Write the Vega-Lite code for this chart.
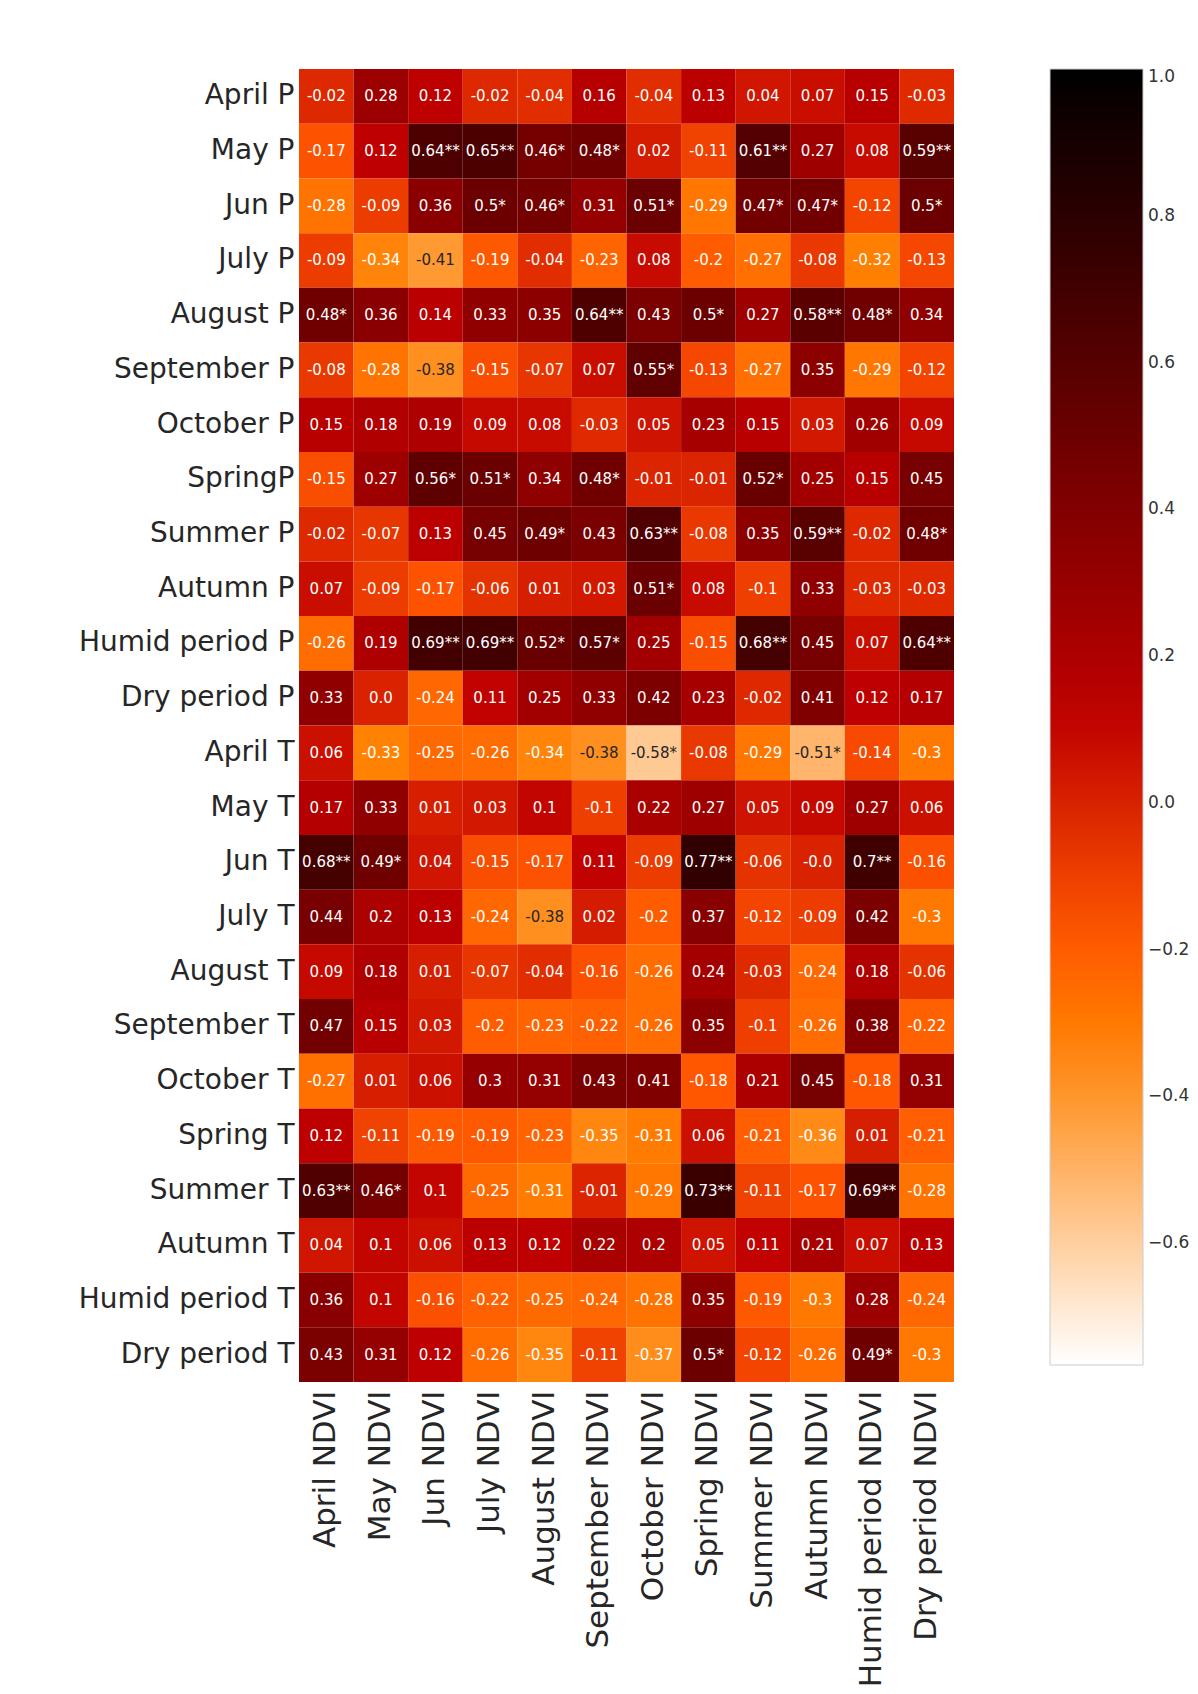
{
  "$schema": "https://vega.github.io/schema/vega-lite/v6.json",
  "width": 655,
  "height": 1313,
  "autosize": {"type": "none"},
  "padding": {"left": 299, "top": 69, "right": 244, "bottom": 312},
  "background": "white",
  "config": {
    "view": {"stroke": null},
    "font": "DejaVu Sans",
    "axis": {"labelFont": "DejaVu Sans", "labelColor": "#262626", "ticks": false, "domain": false, "grid": false, "title": null}
  },
  "data": {"values": [
{"y":"April P","x":"April NDVI","v":-0.02,"t":"-0.02"},
{"y":"April P","x":"May NDVI","v":0.28,"t":"0.28"},
{"y":"April P","x":"Jun NDVI","v":0.12,"t":"0.12"},
{"y":"April P","x":"July NDVI","v":-0.02,"t":"-0.02"},
{"y":"April P","x":"August NDVI","v":-0.04,"t":"-0.04"},
{"y":"April P","x":"September NDVI","v":0.16,"t":"0.16"},
{"y":"April P","x":"October NDVI","v":-0.04,"t":"-0.04"},
{"y":"April P","x":"Spring NDVI","v":0.13,"t":"0.13"},
{"y":"April P","x":"Summer NDVI","v":0.04,"t":"0.04"},
{"y":"April P","x":"Autumn NDVI","v":0.07,"t":"0.07"},
{"y":"April P","x":"Humid  period NDVI","v":0.15,"t":"0.15"},
{"y":"April P","x":"Dry period NDVI","v":-0.03,"t":"-0.03"},
{"y":"May P","x":"April NDVI","v":-0.17,"t":"-0.17"},
{"y":"May P","x":"May NDVI","v":0.12,"t":"0.12"},
{"y":"May P","x":"Jun NDVI","v":0.64,"t":"0.64**"},
{"y":"May P","x":"July NDVI","v":0.65,"t":"0.65**"},
{"y":"May P","x":"August NDVI","v":0.46,"t":"0.46*"},
{"y":"May P","x":"September NDVI","v":0.48,"t":"0.48*"},
{"y":"May P","x":"October NDVI","v":0.02,"t":"0.02"},
{"y":"May P","x":"Spring NDVI","v":-0.11,"t":"-0.11"},
{"y":"May P","x":"Summer NDVI","v":0.61,"t":"0.61**"},
{"y":"May P","x":"Autumn NDVI","v":0.27,"t":"0.27"},
{"y":"May P","x":"Humid  period NDVI","v":0.08,"t":"0.08"},
{"y":"May P","x":"Dry period NDVI","v":0.59,"t":"0.59**"},
{"y":"Jun P","x":"April NDVI","v":-0.28,"t":"-0.28"},
{"y":"Jun P","x":"May NDVI","v":-0.09,"t":"-0.09"},
{"y":"Jun P","x":"Jun NDVI","v":0.36,"t":"0.36"},
{"y":"Jun P","x":"July NDVI","v":0.5,"t":"0.5*"},
{"y":"Jun P","x":"August NDVI","v":0.46,"t":"0.46*"},
{"y":"Jun P","x":"September NDVI","v":0.31,"t":"0.31"},
{"y":"Jun P","x":"October NDVI","v":0.51,"t":"0.51*"},
{"y":"Jun P","x":"Spring NDVI","v":-0.29,"t":"-0.29"},
{"y":"Jun P","x":"Summer NDVI","v":0.47,"t":"0.47*"},
{"y":"Jun P","x":"Autumn NDVI","v":0.47,"t":"0.47*"},
{"y":"Jun P","x":"Humid  period NDVI","v":-0.12,"t":"-0.12"},
{"y":"Jun P","x":"Dry period NDVI","v":0.5,"t":"0.5*"},
{"y":"July P","x":"April NDVI","v":-0.09,"t":"-0.09"},
{"y":"July P","x":"May NDVI","v":-0.34,"t":"-0.34"},
{"y":"July P","x":"Jun NDVI","v":-0.41,"t":"-0.41"},
{"y":"July P","x":"July NDVI","v":-0.19,"t":"-0.19"},
{"y":"July P","x":"August NDVI","v":-0.04,"t":"-0.04"},
{"y":"July P","x":"September NDVI","v":-0.23,"t":"-0.23"},
{"y":"July P","x":"October NDVI","v":0.08,"t":"0.08"},
{"y":"July P","x":"Spring NDVI","v":-0.2,"t":"-0.2"},
{"y":"July P","x":"Summer NDVI","v":-0.27,"t":"-0.27"},
{"y":"July P","x":"Autumn NDVI","v":-0.08,"t":"-0.08"},
{"y":"July P","x":"Humid  period NDVI","v":-0.32,"t":"-0.32"},
{"y":"July P","x":"Dry period NDVI","v":-0.13,"t":"-0.13"},
{"y":"August P","x":"April NDVI","v":0.48,"t":"0.48*"},
{"y":"August P","x":"May NDVI","v":0.36,"t":"0.36"},
{"y":"August P","x":"Jun NDVI","v":0.14,"t":"0.14"},
{"y":"August P","x":"July NDVI","v":0.33,"t":"0.33"},
{"y":"August P","x":"August NDVI","v":0.35,"t":"0.35"},
{"y":"August P","x":"September NDVI","v":0.64,"t":"0.64**"},
{"y":"August P","x":"October NDVI","v":0.43,"t":"0.43"},
{"y":"August P","x":"Spring NDVI","v":0.5,"t":"0.5*"},
{"y":"August P","x":"Summer NDVI","v":0.27,"t":"0.27"},
{"y":"August P","x":"Autumn NDVI","v":0.58,"t":"0.58**"},
{"y":"August P","x":"Humid  period NDVI","v":0.48,"t":"0.48*"},
{"y":"August P","x":"Dry period NDVI","v":0.34,"t":"0.34"},
{"y":"September P","x":"April NDVI","v":-0.08,"t":"-0.08"},
{"y":"September P","x":"May NDVI","v":-0.28,"t":"-0.28"},
{"y":"September P","x":"Jun NDVI","v":-0.38,"t":"-0.38"},
{"y":"September P","x":"July NDVI","v":-0.15,"t":"-0.15"},
{"y":"September P","x":"August NDVI","v":-0.07,"t":"-0.07"},
{"y":"September P","x":"September NDVI","v":0.07,"t":"0.07"},
{"y":"September P","x":"October NDVI","v":0.55,"t":"0.55*"},
{"y":"September P","x":"Spring NDVI","v":-0.13,"t":"-0.13"},
{"y":"September P","x":"Summer NDVI","v":-0.27,"t":"-0.27"},
{"y":"September P","x":"Autumn NDVI","v":0.35,"t":"0.35"},
{"y":"September P","x":"Humid  period NDVI","v":-0.29,"t":"-0.29"},
{"y":"September P","x":"Dry period NDVI","v":-0.12,"t":"-0.12"},
{"y":"October P","x":"April NDVI","v":0.15,"t":"0.15"},
{"y":"October P","x":"May NDVI","v":0.18,"t":"0.18"},
{"y":"October P","x":"Jun NDVI","v":0.19,"t":"0.19"},
{"y":"October P","x":"July NDVI","v":0.09,"t":"0.09"},
{"y":"October P","x":"August NDVI","v":0.08,"t":"0.08"},
{"y":"October P","x":"September NDVI","v":-0.03,"t":"-0.03"},
{"y":"October P","x":"October NDVI","v":0.05,"t":"0.05"},
{"y":"October P","x":"Spring NDVI","v":0.23,"t":"0.23"},
{"y":"October P","x":"Summer NDVI","v":0.15,"t":"0.15"},
{"y":"October P","x":"Autumn NDVI","v":0.03,"t":"0.03"},
{"y":"October P","x":"Humid  period NDVI","v":0.26,"t":"0.26"},
{"y":"October P","x":"Dry period NDVI","v":0.09,"t":"0.09"},
{"y":"SpringP","x":"April NDVI","v":-0.15,"t":"-0.15"},
{"y":"SpringP","x":"May NDVI","v":0.27,"t":"0.27"},
{"y":"SpringP","x":"Jun NDVI","v":0.56,"t":"0.56*"},
{"y":"SpringP","x":"July NDVI","v":0.51,"t":"0.51*"},
{"y":"SpringP","x":"August NDVI","v":0.34,"t":"0.34"},
{"y":"SpringP","x":"September NDVI","v":0.48,"t":"0.48*"},
{"y":"SpringP","x":"October NDVI","v":-0.01,"t":"-0.01"},
{"y":"SpringP","x":"Spring NDVI","v":-0.01,"t":"-0.01"},
{"y":"SpringP","x":"Summer NDVI","v":0.52,"t":"0.52*"},
{"y":"SpringP","x":"Autumn NDVI","v":0.25,"t":"0.25"},
{"y":"SpringP","x":"Humid  period NDVI","v":0.15,"t":"0.15"},
{"y":"SpringP","x":"Dry period NDVI","v":0.45,"t":"0.45"},
{"y":"Summer P","x":"April NDVI","v":-0.02,"t":"-0.02"},
{"y":"Summer P","x":"May NDVI","v":-0.07,"t":"-0.07"},
{"y":"Summer P","x":"Jun NDVI","v":0.13,"t":"0.13"},
{"y":"Summer P","x":"July NDVI","v":0.45,"t":"0.45"},
{"y":"Summer P","x":"August NDVI","v":0.49,"t":"0.49*"},
{"y":"Summer P","x":"September NDVI","v":0.43,"t":"0.43"},
{"y":"Summer P","x":"October NDVI","v":0.63,"t":"0.63**"},
{"y":"Summer P","x":"Spring NDVI","v":-0.08,"t":"-0.08"},
{"y":"Summer P","x":"Summer NDVI","v":0.35,"t":"0.35"},
{"y":"Summer P","x":"Autumn NDVI","v":0.59,"t":"0.59**"},
{"y":"Summer P","x":"Humid  period NDVI","v":-0.02,"t":"-0.02"},
{"y":"Summer P","x":"Dry period NDVI","v":0.48,"t":"0.48*"},
{"y":"Autumn P","x":"April NDVI","v":0.07,"t":"0.07"},
{"y":"Autumn P","x":"May NDVI","v":-0.09,"t":"-0.09"},
{"y":"Autumn P","x":"Jun NDVI","v":-0.17,"t":"-0.17"},
{"y":"Autumn P","x":"July NDVI","v":-0.06,"t":"-0.06"},
{"y":"Autumn P","x":"August NDVI","v":0.01,"t":"0.01"},
{"y":"Autumn P","x":"September NDVI","v":0.03,"t":"0.03"},
{"y":"Autumn P","x":"October NDVI","v":0.51,"t":"0.51*"},
{"y":"Autumn P","x":"Spring NDVI","v":0.08,"t":"0.08"},
{"y":"Autumn P","x":"Summer NDVI","v":-0.1,"t":"-0.1"},
{"y":"Autumn P","x":"Autumn NDVI","v":0.33,"t":"0.33"},
{"y":"Autumn P","x":"Humid  period NDVI","v":-0.03,"t":"-0.03"},
{"y":"Autumn P","x":"Dry period NDVI","v":-0.03,"t":"-0.03"},
{"y":"Humid  period P","x":"April NDVI","v":-0.26,"t":"-0.26"},
{"y":"Humid  period P","x":"May NDVI","v":0.19,"t":"0.19"},
{"y":"Humid  period P","x":"Jun NDVI","v":0.69,"t":"0.69**"},
{"y":"Humid  period P","x":"July NDVI","v":0.69,"t":"0.69**"},
{"y":"Humid  period P","x":"August NDVI","v":0.52,"t":"0.52*"},
{"y":"Humid  period P","x":"September NDVI","v":0.57,"t":"0.57*"},
{"y":"Humid  period P","x":"October NDVI","v":0.25,"t":"0.25"},
{"y":"Humid  period P","x":"Spring NDVI","v":-0.15,"t":"-0.15"},
{"y":"Humid  period P","x":"Summer NDVI","v":0.68,"t":"0.68**"},
{"y":"Humid  period P","x":"Autumn NDVI","v":0.45,"t":"0.45"},
{"y":"Humid  period P","x":"Humid  period NDVI","v":0.07,"t":"0.07"},
{"y":"Humid  period P","x":"Dry period NDVI","v":0.64,"t":"0.64**"},
{"y":"Dry period P","x":"April NDVI","v":0.33,"t":"0.33"},
{"y":"Dry period P","x":"May NDVI","v":0.0,"t":"0.0"},
{"y":"Dry period P","x":"Jun NDVI","v":-0.24,"t":"-0.24"},
{"y":"Dry period P","x":"July NDVI","v":0.11,"t":"0.11"},
{"y":"Dry period P","x":"August NDVI","v":0.25,"t":"0.25"},
{"y":"Dry period P","x":"September NDVI","v":0.33,"t":"0.33"},
{"y":"Dry period P","x":"October NDVI","v":0.42,"t":"0.42"},
{"y":"Dry period P","x":"Spring NDVI","v":0.23,"t":"0.23"},
{"y":"Dry period P","x":"Summer NDVI","v":-0.02,"t":"-0.02"},
{"y":"Dry period P","x":"Autumn NDVI","v":0.41,"t":"0.41"},
{"y":"Dry period P","x":"Humid  period NDVI","v":0.12,"t":"0.12"},
{"y":"Dry period P","x":"Dry period NDVI","v":0.17,"t":"0.17"},
{"y":"April T","x":"April NDVI","v":0.06,"t":"0.06"},
{"y":"April T","x":"May NDVI","v":-0.33,"t":"-0.33"},
{"y":"April T","x":"Jun NDVI","v":-0.25,"t":"-0.25"},
{"y":"April T","x":"July NDVI","v":-0.26,"t":"-0.26"},
{"y":"April T","x":"August NDVI","v":-0.34,"t":"-0.34"},
{"y":"April T","x":"September NDVI","v":-0.38,"t":"-0.38"},
{"y":"April T","x":"October NDVI","v":-0.58,"t":"-0.58*"},
{"y":"April T","x":"Spring NDVI","v":-0.08,"t":"-0.08"},
{"y":"April T","x":"Summer NDVI","v":-0.29,"t":"-0.29"},
{"y":"April T","x":"Autumn NDVI","v":-0.51,"t":"-0.51*"},
{"y":"April T","x":"Humid  period NDVI","v":-0.14,"t":"-0.14"},
{"y":"April T","x":"Dry period NDVI","v":-0.3,"t":"-0.3"},
{"y":"May T","x":"April NDVI","v":0.17,"t":"0.17"},
{"y":"May T","x":"May NDVI","v":0.33,"t":"0.33"},
{"y":"May T","x":"Jun NDVI","v":0.01,"t":"0.01"},
{"y":"May T","x":"July NDVI","v":0.03,"t":"0.03"},
{"y":"May T","x":"August NDVI","v":0.1,"t":"0.1"},
{"y":"May T","x":"September NDVI","v":-0.1,"t":"-0.1"},
{"y":"May T","x":"October NDVI","v":0.22,"t":"0.22"},
{"y":"May T","x":"Spring NDVI","v":0.27,"t":"0.27"},
{"y":"May T","x":"Summer NDVI","v":0.05,"t":"0.05"},
{"y":"May T","x":"Autumn NDVI","v":0.09,"t":"0.09"},
{"y":"May T","x":"Humid  period NDVI","v":0.27,"t":"0.27"},
{"y":"May T","x":"Dry period NDVI","v":0.06,"t":"0.06"},
{"y":"Jun T","x":"April NDVI","v":0.68,"t":"0.68**"},
{"y":"Jun T","x":"May NDVI","v":0.49,"t":"0.49*"},
{"y":"Jun T","x":"Jun NDVI","v":0.04,"t":"0.04"},
{"y":"Jun T","x":"July NDVI","v":-0.15,"t":"-0.15"},
{"y":"Jun T","x":"August NDVI","v":-0.17,"t":"-0.17"},
{"y":"Jun T","x":"September NDVI","v":0.11,"t":"0.11"},
{"y":"Jun T","x":"October NDVI","v":-0.09,"t":"-0.09"},
{"y":"Jun T","x":"Spring NDVI","v":0.77,"t":"0.77**"},
{"y":"Jun T","x":"Summer NDVI","v":-0.06,"t":"-0.06"},
{"y":"Jun T","x":"Autumn NDVI","v":-0.0,"t":"-0.0"},
{"y":"Jun T","x":"Humid  period NDVI","v":0.7,"t":"0.7**"},
{"y":"Jun T","x":"Dry period NDVI","v":-0.16,"t":"-0.16"},
{"y":"July T","x":"April NDVI","v":0.44,"t":"0.44"},
{"y":"July T","x":"May NDVI","v":0.2,"t":"0.2"},
{"y":"July T","x":"Jun NDVI","v":0.13,"t":"0.13"},
{"y":"July T","x":"July NDVI","v":-0.24,"t":"-0.24"},
{"y":"July T","x":"August NDVI","v":-0.38,"t":"-0.38"},
{"y":"July T","x":"September NDVI","v":0.02,"t":"0.02"},
{"y":"July T","x":"October NDVI","v":-0.2,"t":"-0.2"},
{"y":"July T","x":"Spring NDVI","v":0.37,"t":"0.37"},
{"y":"July T","x":"Summer NDVI","v":-0.12,"t":"-0.12"},
{"y":"July T","x":"Autumn NDVI","v":-0.09,"t":"-0.09"},
{"y":"July T","x":"Humid  period NDVI","v":0.42,"t":"0.42"},
{"y":"July T","x":"Dry period NDVI","v":-0.3,"t":"-0.3"},
{"y":"August T","x":"April NDVI","v":0.09,"t":"0.09"},
{"y":"August T","x":"May NDVI","v":0.18,"t":"0.18"},
{"y":"August T","x":"Jun NDVI","v":0.01,"t":"0.01"},
{"y":"August T","x":"July NDVI","v":-0.07,"t":"-0.07"},
{"y":"August T","x":"August NDVI","v":-0.04,"t":"-0.04"},
{"y":"August T","x":"September NDVI","v":-0.16,"t":"-0.16"},
{"y":"August T","x":"October NDVI","v":-0.26,"t":"-0.26"},
{"y":"August T","x":"Spring NDVI","v":0.24,"t":"0.24"},
{"y":"August T","x":"Summer NDVI","v":-0.03,"t":"-0.03"},
{"y":"August T","x":"Autumn NDVI","v":-0.24,"t":"-0.24"},
{"y":"August T","x":"Humid  period NDVI","v":0.18,"t":"0.18"},
{"y":"August T","x":"Dry period NDVI","v":-0.06,"t":"-0.06"},
{"y":"September T","x":"April NDVI","v":0.47,"t":"0.47"},
{"y":"September T","x":"May NDVI","v":0.15,"t":"0.15"},
{"y":"September T","x":"Jun NDVI","v":0.03,"t":"0.03"},
{"y":"September T","x":"July NDVI","v":-0.2,"t":"-0.2"},
{"y":"September T","x":"August NDVI","v":-0.23,"t":"-0.23"},
{"y":"September T","x":"September NDVI","v":-0.22,"t":"-0.22"},
{"y":"September T","x":"October NDVI","v":-0.26,"t":"-0.26"},
{"y":"September T","x":"Spring NDVI","v":0.35,"t":"0.35"},
{"y":"September T","x":"Summer NDVI","v":-0.1,"t":"-0.1"},
{"y":"September T","x":"Autumn NDVI","v":-0.26,"t":"-0.26"},
{"y":"September T","x":"Humid  period NDVI","v":0.38,"t":"0.38"},
{"y":"September T","x":"Dry period NDVI","v":-0.22,"t":"-0.22"},
{"y":"October T","x":"April NDVI","v":-0.27,"t":"-0.27"},
{"y":"October T","x":"May NDVI","v":0.01,"t":"0.01"},
{"y":"October T","x":"Jun NDVI","v":0.06,"t":"0.06"},
{"y":"October T","x":"July NDVI","v":0.3,"t":"0.3"},
{"y":"October T","x":"August NDVI","v":0.31,"t":"0.31"},
{"y":"October T","x":"September NDVI","v":0.43,"t":"0.43"},
{"y":"October T","x":"October NDVI","v":0.41,"t":"0.41"},
{"y":"October T","x":"Spring NDVI","v":-0.18,"t":"-0.18"},
{"y":"October T","x":"Summer NDVI","v":0.21,"t":"0.21"},
{"y":"October T","x":"Autumn NDVI","v":0.45,"t":"0.45"},
{"y":"October T","x":"Humid  period NDVI","v":-0.18,"t":"-0.18"},
{"y":"October T","x":"Dry period NDVI","v":0.31,"t":"0.31"},
{"y":"Spring T","x":"April NDVI","v":0.12,"t":"0.12"},
{"y":"Spring T","x":"May NDVI","v":-0.11,"t":"-0.11"},
{"y":"Spring T","x":"Jun NDVI","v":-0.19,"t":"-0.19"},
{"y":"Spring T","x":"July NDVI","v":-0.19,"t":"-0.19"},
{"y":"Spring T","x":"August NDVI","v":-0.23,"t":"-0.23"},
{"y":"Spring T","x":"September NDVI","v":-0.35,"t":"-0.35"},
{"y":"Spring T","x":"October NDVI","v":-0.31,"t":"-0.31"},
{"y":"Spring T","x":"Spring NDVI","v":0.06,"t":"0.06"},
{"y":"Spring T","x":"Summer NDVI","v":-0.21,"t":"-0.21"},
{"y":"Spring T","x":"Autumn NDVI","v":-0.36,"t":"-0.36"},
{"y":"Spring T","x":"Humid  period NDVI","v":0.01,"t":"0.01"},
{"y":"Spring T","x":"Dry period NDVI","v":-0.21,"t":"-0.21"},
{"y":"Summer T","x":"April NDVI","v":0.63,"t":"0.63**"},
{"y":"Summer T","x":"May NDVI","v":0.46,"t":"0.46*"},
{"y":"Summer T","x":"Jun NDVI","v":0.1,"t":"0.1"},
{"y":"Summer T","x":"July NDVI","v":-0.25,"t":"-0.25"},
{"y":"Summer T","x":"August NDVI","v":-0.31,"t":"-0.31"},
{"y":"Summer T","x":"September NDVI","v":-0.01,"t":"-0.01"},
{"y":"Summer T","x":"October NDVI","v":-0.29,"t":"-0.29"},
{"y":"Summer T","x":"Spring NDVI","v":0.73,"t":"0.73**"},
{"y":"Summer T","x":"Summer NDVI","v":-0.11,"t":"-0.11"},
{"y":"Summer T","x":"Autumn NDVI","v":-0.17,"t":"-0.17"},
{"y":"Summer T","x":"Humid  period NDVI","v":0.69,"t":"0.69**"},
{"y":"Summer T","x":"Dry period NDVI","v":-0.28,"t":"-0.28"},
{"y":"Autumn T","x":"April NDVI","v":0.04,"t":"0.04"},
{"y":"Autumn T","x":"May NDVI","v":0.1,"t":"0.1"},
{"y":"Autumn T","x":"Jun NDVI","v":0.06,"t":"0.06"},
{"y":"Autumn T","x":"July NDVI","v":0.13,"t":"0.13"},
{"y":"Autumn T","x":"August NDVI","v":0.12,"t":"0.12"},
{"y":"Autumn T","x":"September NDVI","v":0.22,"t":"0.22"},
{"y":"Autumn T","x":"October NDVI","v":0.2,"t":"0.2"},
{"y":"Autumn T","x":"Spring NDVI","v":0.05,"t":"0.05"},
{"y":"Autumn T","x":"Summer NDVI","v":0.11,"t":"0.11"},
{"y":"Autumn T","x":"Autumn NDVI","v":0.21,"t":"0.21"},
{"y":"Autumn T","x":"Humid  period NDVI","v":0.07,"t":"0.07"},
{"y":"Autumn T","x":"Dry period NDVI","v":0.13,"t":"0.13"},
{"y":"Humid  period T","x":"April NDVI","v":0.36,"t":"0.36"},
{"y":"Humid  period T","x":"May NDVI","v":0.1,"t":"0.1"},
{"y":"Humid  period T","x":"Jun NDVI","v":-0.16,"t":"-0.16"},
{"y":"Humid  period T","x":"July NDVI","v":-0.22,"t":"-0.22"},
{"y":"Humid  period T","x":"August NDVI","v":-0.25,"t":"-0.25"},
{"y":"Humid  period T","x":"September NDVI","v":-0.24,"t":"-0.24"},
{"y":"Humid  period T","x":"October NDVI","v":-0.28,"t":"-0.28"},
{"y":"Humid  period T","x":"Spring NDVI","v":0.35,"t":"0.35"},
{"y":"Humid  period T","x":"Summer NDVI","v":-0.19,"t":"-0.19"},
{"y":"Humid  period T","x":"Autumn NDVI","v":-0.3,"t":"-0.3"},
{"y":"Humid  period T","x":"Humid  period NDVI","v":0.28,"t":"0.28"},
{"y":"Humid  period T","x":"Dry period NDVI","v":-0.24,"t":"-0.24"},
{"y":"Dry period T","x":"April NDVI","v":0.43,"t":"0.43"},
{"y":"Dry period T","x":"May NDVI","v":0.31,"t":"0.31"},
{"y":"Dry period T","x":"Jun NDVI","v":0.12,"t":"0.12"},
{"y":"Dry period T","x":"July NDVI","v":-0.26,"t":"-0.26"},
{"y":"Dry period T","x":"August NDVI","v":-0.35,"t":"-0.35"},
{"y":"Dry period T","x":"September NDVI","v":-0.11,"t":"-0.11"},
{"y":"Dry period T","x":"October NDVI","v":-0.37,"t":"-0.37"},
{"y":"Dry period T","x":"Spring NDVI","v":0.5,"t":"0.5*"},
{"y":"Dry period T","x":"Summer NDVI","v":-0.12,"t":"-0.12"},
{"y":"Dry period T","x":"Autumn NDVI","v":-0.26,"t":"-0.26"},
{"y":"Dry period T","x":"Humid  period NDVI","v":0.49,"t":"0.49*"},
{"y":"Dry period T","x":"Dry period NDVI","v":-0.3,"t":"-0.3"}
  ]},
  "encoding": {
    "x": {"field": "x", "type": "nominal", "sort": null,
      "scale": {"paddingInner": 0, "paddingOuter": 0},
      "axis": {"orient": "bottom", "labelAngle": -90, "labelFontSize": 31, "labelPadding": 8, "labelLimit": 400}},
    "y": {"field": "y", "type": "nominal", "sort": null,
      "scale": {"paddingInner": 0, "paddingOuter": 0},
      "axis": {"orient": "left", "labelFontSize": 28, "labelPadding": 5, "labelLimit": 400}}
  },
  "layer": [
    {
      "mark": {"type": "rect"},
      "encoding": {
        "color": {"field": "v", "type": "quantitative",
          "scale": {"domain": [-0.766, -0.3245, -0.1773, 0.117, 1.0],
                    "range": ["#ffffff", "#ff8000", "#ff5500", "#bf0000", "#000000"],
                    "interpolate": "rgb"},
          "legend": {"orient": "none", "legendX": 751, "legendY": 0, "direction": "vertical",
            "gradientLength": 1296, "gradientThickness": 93, "title": null,
            "values": [1.0, 0.8, 0.6, 0.4, 0.2, 0.0, -0.2, -0.4, -0.6],
            "format": ".1f", "labelFontSize": 17, "labelColor": "#333333", "labelOffset": 5,
            "labelBaseline": "middle", "labelOverlap": false,
            "gradientStrokeColor": "#cccccc", "gradientStrokeWidth": 1}}
      }
    },
    {
      "mark": {"type": "text", "fontSize": 15, "font": "DejaVu Sans"},
      "encoding": {
        "text": {"field": "t"},
        "color": {"condition": {"test": "datum.v <= -0.375", "value": "#262626"}, "value": "#ffffff"}
      }
    }
  ]
}
